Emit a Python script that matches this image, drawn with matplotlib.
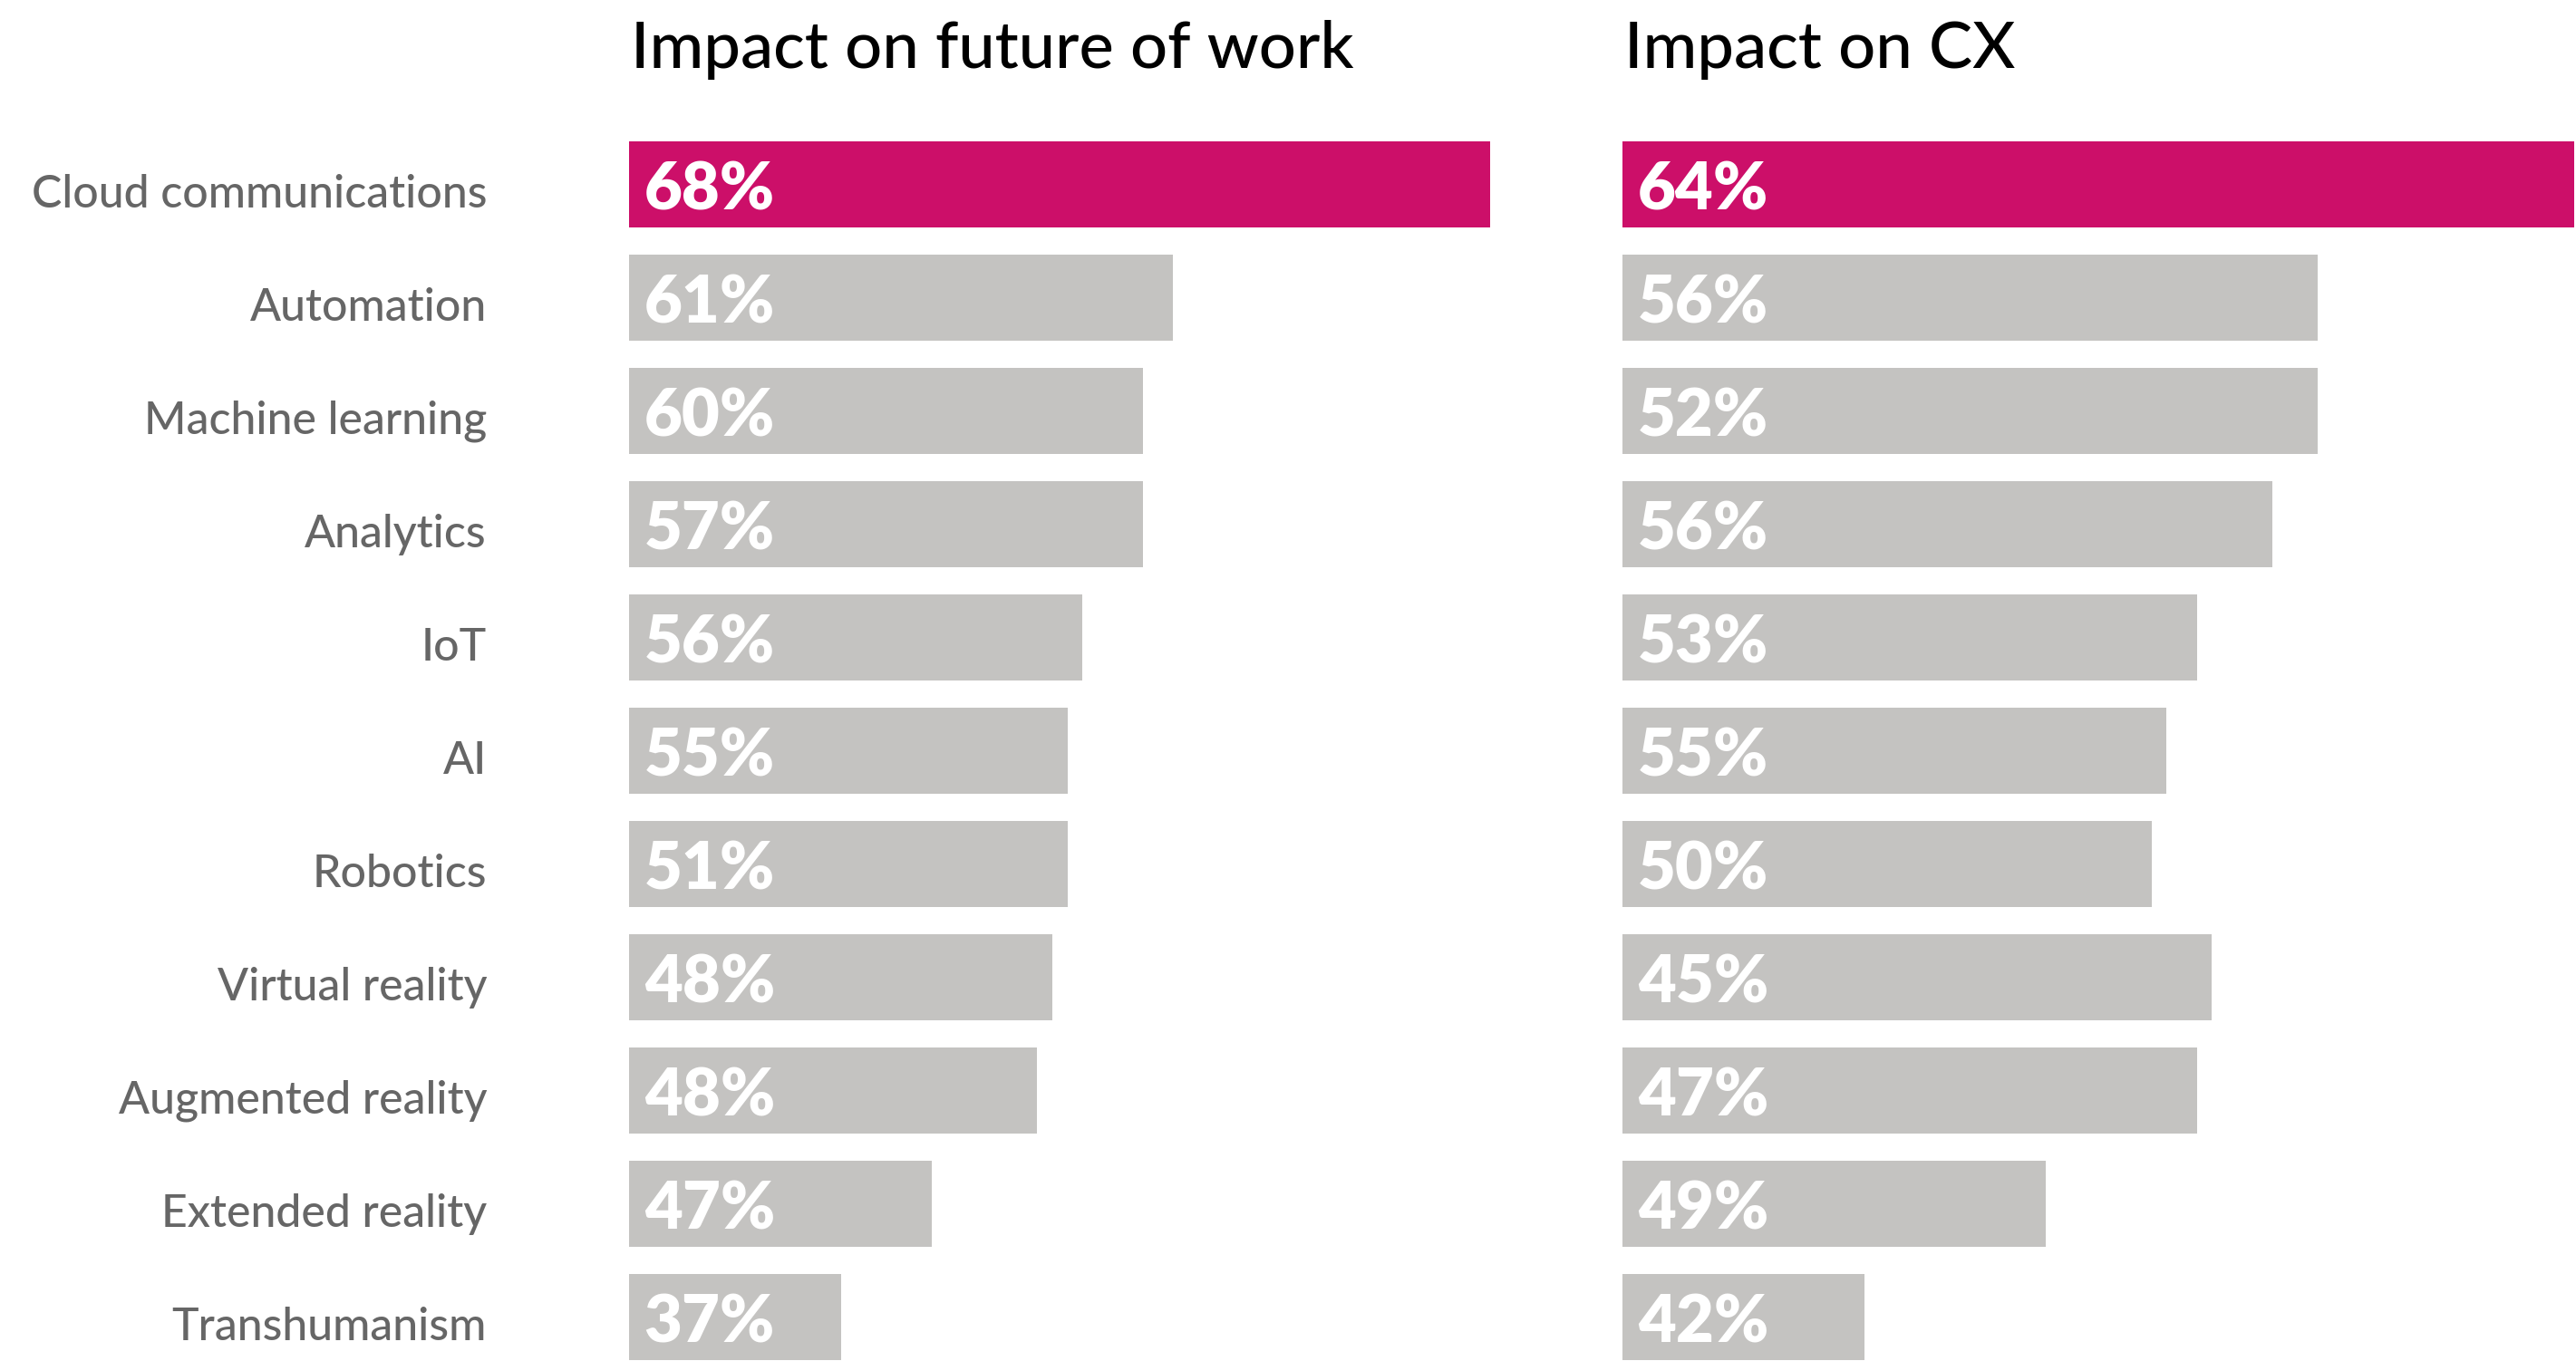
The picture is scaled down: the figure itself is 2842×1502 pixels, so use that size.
import matplotlib
matplotlib.use("Agg")
import matplotlib.pyplot as plt

plt.rcParams['font.family'] = ['Lato', 'DejaVu Sans']

categories = ["Cloud communications", "Automation", "Machine learning", "Analytics", "IoT", "AI",
              "Robotics", "Virtual reality", "Augmented reality", "Extended reality", "Transhumanism"]

# printed values
labels_work = ["68%", "61%", "60%", "57%", "56%", "55%", "51%", "48%", "48%", "47%", "37%"]
labels_cx = ["64%", "56%", "52%", "56%", "53%", "55%", "50%", "45%", "47%", "49%", "42%"]

# drawn bar lengths (the source image does not draw them to scale with the labels)
bar_len_work = [95, 60, 56.7, 56.7, 50, 48.4, 48.4, 46.7, 45, 33.4, 23.4]
bar_len_cx = [105, 76.7, 76.7, 71.7, 63.4, 60, 58.4, 65, 63.4, 46.7, 26.7]

titles = ["Impact on future of work", "Impact on CX"]

W, H = 2842, 1502
fig = plt.figure(figsize=(W / 100, H / 100), dpi=100)
fig.patch.set_facecolor("white")

magenta = "#CC0F69"
grey = "#C4C3C1"

top_px = 156
axes_px = [(694, 1096), (1790, 1052)]
series = [(bar_len_work, labels_work), (bar_len_cx, labels_cx)]

for k, ((x0, w), (lens, labs)) in enumerate(zip(axes_px, series)):
    ax = fig.add_axes([x0 / W, 0, w / W, (H - top_px) / H])
    y = list(range(len(categories)))
    colors = [magenta] + [grey] * (len(categories) - 1)
    ax.barh(y, lens, height=0.76, color=colors, left=0)
    ax.set_xlim(0, w / 10)
    ax.set_ylim(len(categories) - 0.62 + 0.008, -0.38)
    for i, t in enumerate(labs):
        ax.annotate(t, xy=(0, i), xytext=(12, -5), textcoords="offset points",
                    ha="left", va="center", color="white", fontsize=52, fontweight="heavy")
    if k == 0:
        for i, c in enumerate(categories):
            ax.annotate(c, xy=(0, i), xytext=(-113, -8), textcoords="offset points",
                        ha="right", va="center", color="#666666", fontsize=36,
                        fontweight="medium", annotation_clip=False)
    for s in ax.spines.values():
        s.set_visible(False)
    ax.set_xticks([])
    ax.set_yticks([])
    fig.text((x0 + 2) / W, 1 - 55 / H, titles[k], ha="left", va="center",
             fontsize=52, fontweight="medium", color="black")

fig.savefig("out.png", dpi=100, facecolor="white")
